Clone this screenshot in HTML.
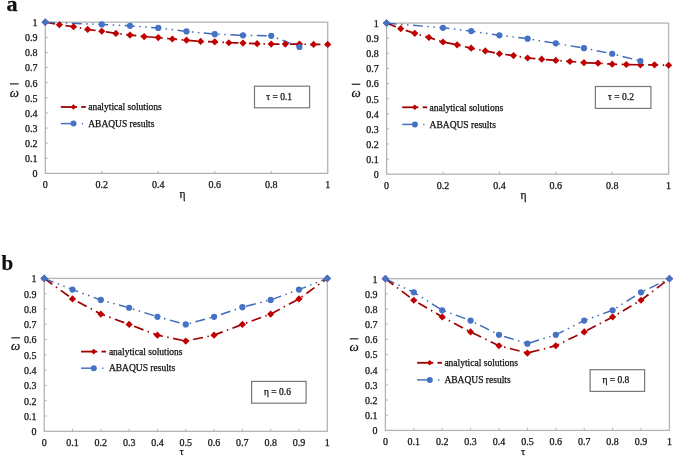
<!DOCTYPE html>
<html><head><meta charset="utf-8"><style>
html,body{margin:0;padding:0;background:#fff;}
svg{display:block;will-change:transform;}
text{font-family:"Liberation Serif",serif;fill:#111;stroke:#111;stroke-width:0.25px;}
.t{font-size:10px;}
.lg{font-size:9.5px;}
.ax{font-size:10.5px;}
.eta{font-size:11.5px;}
.om{font-size:13px;font-style:italic;}
.big{font-size:21px;font-weight:bold;}
</style></head><body>
<svg width="675" height="457" viewBox="0 0 675 457">
<rect width="675" height="457" fill="#fff"/>
<text x="6.5" y="11.1" class="big" transform="translate(6.5 0) scale(1.05 1) translate(-6.5 0)">a</text>
<text x="1.5" y="269.7" class="big">b</text>
<g><rect x="45.3" y="22.2" width="282.4" height="151.2" fill="none" stroke="#B4B4B4" stroke-width="1.3"/>
<line x1="45.3" y1="158.28" x2="47.9" y2="158.28" stroke="#B4B4B4" stroke-width="1"/>
<line x1="45.3" y1="143.16" x2="47.9" y2="143.16" stroke="#B4B4B4" stroke-width="1"/>
<line x1="45.3" y1="128.04" x2="47.9" y2="128.04" stroke="#B4B4B4" stroke-width="1"/>
<line x1="45.3" y1="112.92" x2="47.9" y2="112.92" stroke="#B4B4B4" stroke-width="1"/>
<line x1="45.3" y1="97.8" x2="47.9" y2="97.8" stroke="#B4B4B4" stroke-width="1"/>
<line x1="45.3" y1="82.68" x2="47.9" y2="82.68" stroke="#B4B4B4" stroke-width="1"/>
<line x1="45.3" y1="67.56" x2="47.9" y2="67.56" stroke="#B4B4B4" stroke-width="1"/>
<line x1="45.3" y1="52.44" x2="47.9" y2="52.44" stroke="#B4B4B4" stroke-width="1"/>
<line x1="45.3" y1="37.32" x2="47.9" y2="37.32" stroke="#B4B4B4" stroke-width="1"/>
<line x1="101.78" y1="173.4" x2="101.78" y2="170.8" stroke="#B4B4B4" stroke-width="1"/>
<line x1="158.26" y1="173.4" x2="158.26" y2="170.8" stroke="#B4B4B4" stroke-width="1"/>
<line x1="214.74" y1="173.4" x2="214.74" y2="170.8" stroke="#B4B4B4" stroke-width="1"/>
<line x1="271.22" y1="173.4" x2="271.22" y2="170.8" stroke="#B4B4B4" stroke-width="1"/>
<text x="37.5" y="177.3" text-anchor="end" class="t">0</text>
<text x="37.5" y="162.18" text-anchor="end" class="t">0.1</text>
<text x="37.5" y="147.06" text-anchor="end" class="t">0.2</text>
<text x="37.5" y="131.94" text-anchor="end" class="t">0.3</text>
<text x="37.5" y="116.82" text-anchor="end" class="t">0.4</text>
<text x="37.5" y="101.7" text-anchor="end" class="t">0.5</text>
<text x="37.5" y="86.58" text-anchor="end" class="t">0.6</text>
<text x="37.5" y="71.46" text-anchor="end" class="t">0.7</text>
<text x="37.5" y="56.34" text-anchor="end" class="t">0.8</text>
<text x="37.5" y="41.22" text-anchor="end" class="t">0.9</text>
<text x="37.5" y="26.1" text-anchor="end" class="t">1</text>
<text x="45.3" y="188.4" text-anchor="middle" class="t">0</text>
<text x="101.78" y="188.4" text-anchor="middle" class="t">0.2</text>
<text x="158.26" y="188.4" text-anchor="middle" class="t">0.4</text>
<text x="214.74" y="188.4" text-anchor="middle" class="t">0.6</text>
<text x="271.22" y="188.4" text-anchor="middle" class="t">0.8</text>
<text x="327.7" y="188.4" text-anchor="middle" class="t">1</text>
<text x="182.4" y="197.8" text-anchor="middle" class="ax eta">η</text>
<line x1="10" y1="83.9" x2="18.6" y2="83.9" stroke="#333" stroke-width="1.3"/>
<text x="14.3" y="96.5" text-anchor="middle" class="om">ω</text>
<polyline points="45.3,22.2 59.42,24.77 73.54,26.74 87.66,29.46 101.78,31.27 115.9,33.39 130.02,35.05 144.14,36.56 158.26,37.62 172.38,38.98 186.5,40.19 200.62,41.4 214.74,41.86 228.86,42.76 242.98,43.07 257.1,43.67 271.22,44.12 285.34,44.12 299.46,44.12 313.58,44.43 327.7,44.43" fill="none" stroke="#A00000" stroke-width="1.7" stroke-dasharray="10 4.5 1.5 4.5"/>
<polyline points="45.3,22.2 101.78,24.47 130.02,25.83 158.26,27.95 186.5,31.42 214.74,34.14 242.98,35.35 271.22,35.81 299.46,47" fill="none" stroke="#3F6AB8" stroke-width="1.45" stroke-dasharray="10 4.5 1.5 4.5 1.5 4.5"/>
<path d="M45.3 18.6L48.9 22.2L45.3 25.8L41.7 22.2Z" fill="#C00000"/>
<path d="M59.42 21.17L63.02 24.77L59.42 28.37L55.82 24.77Z" fill="#C00000"/>
<path d="M73.54 23.14L77.14 26.74L73.54 30.34L69.94 26.74Z" fill="#C00000"/>
<path d="M87.66 25.86L91.26 29.46L87.66 33.06L84.06 29.46Z" fill="#C00000"/>
<path d="M101.78 27.67L105.38 31.27L101.78 34.87L98.18 31.27Z" fill="#C00000"/>
<path d="M115.9 29.79L119.5 33.39L115.9 36.99L112.3 33.39Z" fill="#C00000"/>
<path d="M130.02 31.45L133.62 35.05L130.02 38.65L126.42 35.05Z" fill="#C00000"/>
<path d="M144.14 32.96L147.74 36.56L144.14 40.16L140.54 36.56Z" fill="#C00000"/>
<path d="M158.26 34.02L161.86 37.62L158.26 41.22L154.66 37.62Z" fill="#C00000"/>
<path d="M172.38 35.38L175.98 38.98L172.38 42.58L168.78 38.98Z" fill="#C00000"/>
<path d="M186.5 36.59L190.1 40.19L186.5 43.79L182.9 40.19Z" fill="#C00000"/>
<path d="M200.62 37.8L204.22 41.4L200.62 45L197.02 41.4Z" fill="#C00000"/>
<path d="M214.74 38.26L218.34 41.86L214.74 45.46L211.14 41.86Z" fill="#C00000"/>
<path d="M228.86 39.16L232.46 42.76L228.86 46.36L225.26 42.76Z" fill="#C00000"/>
<path d="M242.98 39.47L246.58 43.07L242.98 46.67L239.38 43.07Z" fill="#C00000"/>
<path d="M257.1 40.07L260.7 43.67L257.1 47.27L253.5 43.67Z" fill="#C00000"/>
<path d="M271.22 40.52L274.82 44.12L271.22 47.72L267.62 44.12Z" fill="#C00000"/>
<path d="M285.34 40.52L288.94 44.12L285.34 47.72L281.74 44.12Z" fill="#C00000"/>
<path d="M299.46 40.52L303.06 44.12L299.46 47.72L295.86 44.12Z" fill="#C00000"/>
<path d="M313.58 40.83L317.18 44.43L313.58 48.03L309.98 44.43Z" fill="#C00000"/>
<path d="M327.7 40.83L331.3 44.43L327.7 48.03L324.1 44.43Z" fill="#C00000"/>
<circle cx="101.78" cy="24.47" r="3.1" fill="#4472C4"/>
<circle cx="130.02" cy="25.83" r="3.1" fill="#4472C4"/>
<circle cx="158.26" cy="27.95" r="3.1" fill="#4472C4"/>
<circle cx="186.5" cy="31.42" r="3.1" fill="#4472C4"/>
<circle cx="214.74" cy="34.14" r="3.1" fill="#4472C4"/>
<circle cx="242.98" cy="35.35" r="3.1" fill="#4472C4"/>
<circle cx="271.22" cy="35.81" r="3.1" fill="#4472C4"/>
<circle cx="299.46" cy="47" r="3.1" fill="#4472C4"/>
<path d="M45.3 18.3L49.2 22.2L45.3 26.1L41.4 22.2Z" fill="#4472C4"/>
<line x1="60.8" y1="107" x2="77" y2="107" stroke="#A00000" stroke-width="1.8"/>
<line x1="81.2" y1="107" x2="85.8" y2="107" stroke="#A00000" stroke-width="1.8"/>
<path d="M73.4 104.2L76.2 107L73.4 109.8L70.6 107Z" fill="#C00000"/>
<text x="88.2" y="110.2" class="lg">analytical solutions</text>
<line x1="60.8" y1="123.6" x2="72.8" y2="123.6" stroke="#4472C4" stroke-width="1.5"/>
<line x1="81.8" y1="123.6" x2="83.1" y2="123.6" stroke="#4472C4" stroke-width="1.5"/>
<circle cx="73.5" cy="123.6" r="3" fill="#4472C4"/>
<text x="88.2" y="126.8" class="lg">ABAQUS results</text>
<rect x="254.5" y="86.2" width="55.1" height="21.6" fill="#fff" stroke="#787878" stroke-width="1.2"/>
<text x="279.2" y="99.9" text-anchor="middle" class="lg">τ = 0.1</text></g>
<g><rect x="386.6" y="23.1" width="282" height="151.1" fill="none" stroke="#B4B4B4" stroke-width="1.3"/>
<line x1="386.6" y1="159.09" x2="389.2" y2="159.09" stroke="#B4B4B4" stroke-width="1"/>
<line x1="386.6" y1="143.98" x2="389.2" y2="143.98" stroke="#B4B4B4" stroke-width="1"/>
<line x1="386.6" y1="128.87" x2="389.2" y2="128.87" stroke="#B4B4B4" stroke-width="1"/>
<line x1="386.6" y1="113.76" x2="389.2" y2="113.76" stroke="#B4B4B4" stroke-width="1"/>
<line x1="386.6" y1="98.65" x2="389.2" y2="98.65" stroke="#B4B4B4" stroke-width="1"/>
<line x1="386.6" y1="83.54" x2="389.2" y2="83.54" stroke="#B4B4B4" stroke-width="1"/>
<line x1="386.6" y1="68.43" x2="389.2" y2="68.43" stroke="#B4B4B4" stroke-width="1"/>
<line x1="386.6" y1="53.32" x2="389.2" y2="53.32" stroke="#B4B4B4" stroke-width="1"/>
<line x1="386.6" y1="38.21" x2="389.2" y2="38.21" stroke="#B4B4B4" stroke-width="1"/>
<line x1="443" y1="174.2" x2="443" y2="171.6" stroke="#B4B4B4" stroke-width="1"/>
<line x1="499.4" y1="174.2" x2="499.4" y2="171.6" stroke="#B4B4B4" stroke-width="1"/>
<line x1="555.8" y1="174.2" x2="555.8" y2="171.6" stroke="#B4B4B4" stroke-width="1"/>
<line x1="612.2" y1="174.2" x2="612.2" y2="171.6" stroke="#B4B4B4" stroke-width="1"/>
<text x="378.8" y="178.1" text-anchor="end" class="t">0</text>
<text x="378.8" y="162.99" text-anchor="end" class="t">0.1</text>
<text x="378.8" y="147.88" text-anchor="end" class="t">0.2</text>
<text x="378.8" y="132.77" text-anchor="end" class="t">0.3</text>
<text x="378.8" y="117.66" text-anchor="end" class="t">0.4</text>
<text x="378.8" y="102.55" text-anchor="end" class="t">0.5</text>
<text x="378.8" y="87.44" text-anchor="end" class="t">0.6</text>
<text x="378.8" y="72.33" text-anchor="end" class="t">0.7</text>
<text x="378.8" y="57.22" text-anchor="end" class="t">0.8</text>
<text x="378.8" y="42.11" text-anchor="end" class="t">0.9</text>
<text x="378.8" y="27" text-anchor="end" class="t">1</text>
<text x="386.6" y="189.4" text-anchor="middle" class="t">0</text>
<text x="443" y="189.4" text-anchor="middle" class="t">0.2</text>
<text x="499.4" y="189.4" text-anchor="middle" class="t">0.4</text>
<text x="555.8" y="189.4" text-anchor="middle" class="t">0.6</text>
<text x="612.2" y="189.4" text-anchor="middle" class="t">0.8</text>
<text x="668.6" y="189.4" text-anchor="middle" class="t">1</text>
<text x="523.6" y="199.2" text-anchor="middle" class="ax eta">η</text>
<line x1="351.7" y1="84.3" x2="360.3" y2="84.3" stroke="#333" stroke-width="1.3"/>
<text x="356" y="97.3" text-anchor="middle" class="om">ω</text>
<polyline points="386.6,23.1 400.7,28.69 414.8,33.37 428.9,37.45 443,41.99 457.1,44.86 471.2,48.18 485.3,50.9 499.4,53.77 513.5,55.59 527.6,58 541.7,59.21 555.8,60.42 569.9,61.48 584,62.69 598.1,63.14 612.2,64.2 626.3,64.5 640.4,64.8 654.5,64.8 668.6,65.26" fill="none" stroke="#A00000" stroke-width="1.7" stroke-dasharray="10 4.5 1.5 4.5"/>
<polyline points="386.6,23.1 443,27.78 471.2,31.11 499.4,35.34 527.6,38.66 555.8,43.35 584,48.18 612.2,53.77 640.4,61.03" fill="none" stroke="#3F6AB8" stroke-width="1.45" stroke-dasharray="10 4.5 1.5 4.5 1.5 4.5"/>
<path d="M386.6 19.5L390.2 23.1L386.6 26.7L383 23.1Z" fill="#C00000"/>
<path d="M400.7 25.09L404.3 28.69L400.7 32.29L397.1 28.69Z" fill="#C00000"/>
<path d="M414.8 29.77L418.4 33.37L414.8 36.97L411.2 33.37Z" fill="#C00000"/>
<path d="M428.9 33.85L432.5 37.45L428.9 41.05L425.3 37.45Z" fill="#C00000"/>
<path d="M443 38.39L446.6 41.99L443 45.59L439.4 41.99Z" fill="#C00000"/>
<path d="M457.1 41.26L460.7 44.86L457.1 48.46L453.5 44.86Z" fill="#C00000"/>
<path d="M471.2 44.58L474.8 48.18L471.2 51.78L467.6 48.18Z" fill="#C00000"/>
<path d="M485.3 47.3L488.9 50.9L485.3 54.5L481.7 50.9Z" fill="#C00000"/>
<path d="M499.4 50.17L503 53.77L499.4 57.37L495.8 53.77Z" fill="#C00000"/>
<path d="M513.5 51.99L517.1 55.59L513.5 59.19L509.9 55.59Z" fill="#C00000"/>
<path d="M527.6 54.4L531.2 58L527.6 61.6L524 58Z" fill="#C00000"/>
<path d="M541.7 55.61L545.3 59.21L541.7 62.81L538.1 59.21Z" fill="#C00000"/>
<path d="M555.8 56.82L559.4 60.42L555.8 64.02L552.2 60.42Z" fill="#C00000"/>
<path d="M569.9 57.88L573.5 61.48L569.9 65.08L566.3 61.48Z" fill="#C00000"/>
<path d="M584 59.09L587.6 62.69L584 66.29L580.4 62.69Z" fill="#C00000"/>
<path d="M598.1 59.54L601.7 63.14L598.1 66.74L594.5 63.14Z" fill="#C00000"/>
<path d="M612.2 60.6L615.8 64.2L612.2 67.8L608.6 64.2Z" fill="#C00000"/>
<path d="M626.3 60.9L629.9 64.5L626.3 68.1L622.7 64.5Z" fill="#C00000"/>
<path d="M640.4 61.2L644 64.8L640.4 68.4L636.8 64.8Z" fill="#C00000"/>
<path d="M654.5 61.2L658.1 64.8L654.5 68.4L650.9 64.8Z" fill="#C00000"/>
<path d="M668.6 61.66L672.2 65.26L668.6 68.86L665 65.26Z" fill="#C00000"/>
<circle cx="443" cy="27.78" r="3.1" fill="#4472C4"/>
<circle cx="471.2" cy="31.11" r="3.1" fill="#4472C4"/>
<circle cx="499.4" cy="35.34" r="3.1" fill="#4472C4"/>
<circle cx="527.6" cy="38.66" r="3.1" fill="#4472C4"/>
<circle cx="555.8" cy="43.35" r="3.1" fill="#4472C4"/>
<circle cx="584" cy="48.18" r="3.1" fill="#4472C4"/>
<circle cx="612.2" cy="53.77" r="3.1" fill="#4472C4"/>
<circle cx="640.4" cy="61.03" r="3.1" fill="#4472C4"/>
<path d="M386.6 19.2L390.5 23.1L386.6 27L382.7 23.1Z" fill="#4472C4"/>
<line x1="402.2" y1="107.3" x2="418.4" y2="107.3" stroke="#A00000" stroke-width="1.8"/>
<line x1="422.6" y1="107.3" x2="427.2" y2="107.3" stroke="#A00000" stroke-width="1.8"/>
<path d="M414.8 104.5L417.6 107.3L414.8 110.1L412 107.3Z" fill="#C00000"/>
<text x="429.6" y="110.5" class="lg">analytical solutions</text>
<line x1="402.2" y1="124.4" x2="414.2" y2="124.4" stroke="#4472C4" stroke-width="1.5"/>
<line x1="423.2" y1="124.4" x2="424.5" y2="124.4" stroke="#4472C4" stroke-width="1.5"/>
<circle cx="414.9" cy="124.4" r="3" fill="#4472C4"/>
<text x="429.6" y="127.6" class="lg">ABAQUS results</text>
<rect x="595.4" y="86.5" width="55.5" height="21.9" fill="#fff" stroke="#787878" stroke-width="1.2"/>
<text x="621" y="99.9" text-anchor="middle" class="lg">τ = 0.2</text></g>
<g><rect x="44.2" y="278.4" width="283.1" height="152.9" fill="none" stroke="#B4B4B4" stroke-width="1.3"/>
<line x1="44.2" y1="416.01" x2="46.8" y2="416.01" stroke="#B4B4B4" stroke-width="1"/>
<line x1="44.2" y1="400.72" x2="46.8" y2="400.72" stroke="#B4B4B4" stroke-width="1"/>
<line x1="44.2" y1="385.43" x2="46.8" y2="385.43" stroke="#B4B4B4" stroke-width="1"/>
<line x1="44.2" y1="370.14" x2="46.8" y2="370.14" stroke="#B4B4B4" stroke-width="1"/>
<line x1="44.2" y1="354.85" x2="46.8" y2="354.85" stroke="#B4B4B4" stroke-width="1"/>
<line x1="44.2" y1="339.56" x2="46.8" y2="339.56" stroke="#B4B4B4" stroke-width="1"/>
<line x1="44.2" y1="324.27" x2="46.8" y2="324.27" stroke="#B4B4B4" stroke-width="1"/>
<line x1="44.2" y1="308.98" x2="46.8" y2="308.98" stroke="#B4B4B4" stroke-width="1"/>
<line x1="44.2" y1="293.69" x2="46.8" y2="293.69" stroke="#B4B4B4" stroke-width="1"/>
<line x1="72.51" y1="431.3" x2="72.51" y2="428.7" stroke="#B4B4B4" stroke-width="1"/>
<line x1="100.82" y1="431.3" x2="100.82" y2="428.7" stroke="#B4B4B4" stroke-width="1"/>
<line x1="129.13" y1="431.3" x2="129.13" y2="428.7" stroke="#B4B4B4" stroke-width="1"/>
<line x1="157.44" y1="431.3" x2="157.44" y2="428.7" stroke="#B4B4B4" stroke-width="1"/>
<line x1="185.75" y1="431.3" x2="185.75" y2="428.7" stroke="#B4B4B4" stroke-width="1"/>
<line x1="214.06" y1="431.3" x2="214.06" y2="428.7" stroke="#B4B4B4" stroke-width="1"/>
<line x1="242.37" y1="431.3" x2="242.37" y2="428.7" stroke="#B4B4B4" stroke-width="1"/>
<line x1="270.68" y1="431.3" x2="270.68" y2="428.7" stroke="#B4B4B4" stroke-width="1"/>
<line x1="298.99" y1="431.3" x2="298.99" y2="428.7" stroke="#B4B4B4" stroke-width="1"/>
<text x="36.4" y="435.2" text-anchor="end" class="t">0</text>
<text x="36.4" y="419.91" text-anchor="end" class="t">0.1</text>
<text x="36.4" y="404.62" text-anchor="end" class="t">0.2</text>
<text x="36.4" y="389.33" text-anchor="end" class="t">0.3</text>
<text x="36.4" y="374.04" text-anchor="end" class="t">0.4</text>
<text x="36.4" y="358.75" text-anchor="end" class="t">0.5</text>
<text x="36.4" y="343.46" text-anchor="end" class="t">0.6</text>
<text x="36.4" y="328.17" text-anchor="end" class="t">0.7</text>
<text x="36.4" y="312.88" text-anchor="end" class="t">0.8</text>
<text x="36.4" y="297.59" text-anchor="end" class="t">0.9</text>
<text x="36.4" y="282.3" text-anchor="end" class="t">1</text>
<text x="44.2" y="445.6" text-anchor="middle" class="t">0</text>
<text x="72.51" y="445.6" text-anchor="middle" class="t">0.1</text>
<text x="100.82" y="445.6" text-anchor="middle" class="t">0.2</text>
<text x="129.13" y="445.6" text-anchor="middle" class="t">0.3</text>
<text x="157.44" y="445.6" text-anchor="middle" class="t">0.4</text>
<text x="185.75" y="445.6" text-anchor="middle" class="t">0.5</text>
<text x="214.06" y="445.6" text-anchor="middle" class="t">0.6</text>
<text x="242.37" y="445.6" text-anchor="middle" class="t">0.7</text>
<text x="270.68" y="445.6" text-anchor="middle" class="t">0.8</text>
<text x="298.99" y="445.6" text-anchor="middle" class="t">0.9</text>
<text x="327.3" y="445.6" text-anchor="middle" class="t">1</text>
<text x="181.5" y="455" text-anchor="middle" class="ax">τ</text>
<line x1="11.4" y1="337.8" x2="20" y2="337.8" stroke="#333" stroke-width="1.3"/>
<text x="15.7" y="349.9" text-anchor="middle" class="om">ω</text>
<polyline points="44.2,278.4 72.51,298.89 100.82,314.03 129.13,324.42 157.44,335.13 185.75,341.09 214.06,335.13 242.37,324.42 270.68,314.03 298.99,298.89 327.3,278.4" fill="none" stroke="#A00000" stroke-width="1.7" stroke-dasharray="10 4.5 1.5 4.5"/>
<polyline points="44.2,278.4 72.51,289.56 100.82,299.96 129.13,307.76 157.44,316.78 185.75,324.42 214.06,316.78 242.37,307.15 270.68,299.96 298.99,289.56 327.3,278.4" fill="none" stroke="#3F6AB8" stroke-width="1.45" stroke-dasharray="10 4.5 1.5 4.5 1.5 4.5"/>
<path d="M44.2 274.8L47.8 278.4L44.2 282L40.6 278.4Z" fill="#C00000"/>
<path d="M72.51 295.29L76.11 298.89L72.51 302.49L68.91 298.89Z" fill="#C00000"/>
<path d="M100.82 310.43L104.42 314.03L100.82 317.63L97.22 314.03Z" fill="#C00000"/>
<path d="M129.13 320.82L132.73 324.42L129.13 328.02L125.53 324.42Z" fill="#C00000"/>
<path d="M157.44 331.53L161.04 335.13L157.44 338.73L153.84 335.13Z" fill="#C00000"/>
<path d="M185.75 337.49L189.35 341.09L185.75 344.69L182.15 341.09Z" fill="#C00000"/>
<path d="M214.06 331.53L217.66 335.13L214.06 338.73L210.46 335.13Z" fill="#C00000"/>
<path d="M242.37 320.82L245.97 324.42L242.37 328.02L238.77 324.42Z" fill="#C00000"/>
<path d="M270.68 310.43L274.28 314.03L270.68 317.63L267.08 314.03Z" fill="#C00000"/>
<path d="M298.99 295.29L302.59 298.89L298.99 302.49L295.39 298.89Z" fill="#C00000"/>
<path d="M327.3 274.8L330.9 278.4L327.3 282L323.7 278.4Z" fill="#C00000"/>
<circle cx="72.51" cy="289.56" r="3.1" fill="#4472C4"/>
<circle cx="100.82" cy="299.96" r="3.1" fill="#4472C4"/>
<circle cx="129.13" cy="307.76" r="3.1" fill="#4472C4"/>
<circle cx="157.44" cy="316.78" r="3.1" fill="#4472C4"/>
<circle cx="185.75" cy="324.42" r="3.1" fill="#4472C4"/>
<circle cx="214.06" cy="316.78" r="3.1" fill="#4472C4"/>
<circle cx="242.37" cy="307.15" r="3.1" fill="#4472C4"/>
<circle cx="270.68" cy="299.96" r="3.1" fill="#4472C4"/>
<circle cx="298.99" cy="289.56" r="3.1" fill="#4472C4"/>
<path d="M44.2 274.5L48.1 278.4L44.2 282.3L40.3 278.4Z" fill="#4472C4"/>
<path d="M327.3 274.5L331.2 278.4L327.3 282.3L323.4 278.4Z" fill="#4472C4"/>
<line x1="81.1" y1="351.6" x2="97.3" y2="351.6" stroke="#A00000" stroke-width="1.8"/>
<line x1="101.5" y1="351.6" x2="106.1" y2="351.6" stroke="#A00000" stroke-width="1.8"/>
<path d="M93.7 348.8L96.5 351.6L93.7 354.4L90.9 351.6Z" fill="#C00000"/>
<text x="108.9" y="354.8" class="lg">analytical solutions</text>
<line x1="81.1" y1="368.2" x2="93.1" y2="368.2" stroke="#4472C4" stroke-width="1.5"/>
<line x1="102.1" y1="368.2" x2="103.4" y2="368.2" stroke="#4472C4" stroke-width="1.5"/>
<circle cx="93.8" cy="368.2" r="3" fill="#4472C4"/>
<text x="108.9" y="371.4" class="lg">ABAQUS results</text>
<rect x="251.6" y="381.4" width="54.5" height="21.8" fill="#fff" stroke="#787878" stroke-width="1.2"/>
<text x="277.5" y="395" text-anchor="middle" class="lg">η = 0.6</text></g>
<g><rect x="385.4" y="278.7" width="284" height="151.7" fill="none" stroke="#B4B4B4" stroke-width="1.3"/>
<line x1="385.4" y1="415.23" x2="388" y2="415.23" stroke="#B4B4B4" stroke-width="1"/>
<line x1="385.4" y1="400.06" x2="388" y2="400.06" stroke="#B4B4B4" stroke-width="1"/>
<line x1="385.4" y1="384.89" x2="388" y2="384.89" stroke="#B4B4B4" stroke-width="1"/>
<line x1="385.4" y1="369.72" x2="388" y2="369.72" stroke="#B4B4B4" stroke-width="1"/>
<line x1="385.4" y1="354.55" x2="388" y2="354.55" stroke="#B4B4B4" stroke-width="1"/>
<line x1="385.4" y1="339.38" x2="388" y2="339.38" stroke="#B4B4B4" stroke-width="1"/>
<line x1="385.4" y1="324.21" x2="388" y2="324.21" stroke="#B4B4B4" stroke-width="1"/>
<line x1="385.4" y1="309.04" x2="388" y2="309.04" stroke="#B4B4B4" stroke-width="1"/>
<line x1="385.4" y1="293.87" x2="388" y2="293.87" stroke="#B4B4B4" stroke-width="1"/>
<line x1="413.8" y1="430.4" x2="413.8" y2="427.8" stroke="#B4B4B4" stroke-width="1"/>
<line x1="442.2" y1="430.4" x2="442.2" y2="427.8" stroke="#B4B4B4" stroke-width="1"/>
<line x1="470.6" y1="430.4" x2="470.6" y2="427.8" stroke="#B4B4B4" stroke-width="1"/>
<line x1="499" y1="430.4" x2="499" y2="427.8" stroke="#B4B4B4" stroke-width="1"/>
<line x1="527.4" y1="430.4" x2="527.4" y2="427.8" stroke="#B4B4B4" stroke-width="1"/>
<line x1="555.8" y1="430.4" x2="555.8" y2="427.8" stroke="#B4B4B4" stroke-width="1"/>
<line x1="584.2" y1="430.4" x2="584.2" y2="427.8" stroke="#B4B4B4" stroke-width="1"/>
<line x1="612.6" y1="430.4" x2="612.6" y2="427.8" stroke="#B4B4B4" stroke-width="1"/>
<line x1="641" y1="430.4" x2="641" y2="427.8" stroke="#B4B4B4" stroke-width="1"/>
<text x="377.6" y="434.3" text-anchor="end" class="t">0</text>
<text x="377.6" y="419.13" text-anchor="end" class="t">0.1</text>
<text x="377.6" y="403.96" text-anchor="end" class="t">0.2</text>
<text x="377.6" y="388.79" text-anchor="end" class="t">0.3</text>
<text x="377.6" y="373.62" text-anchor="end" class="t">0.4</text>
<text x="377.6" y="358.45" text-anchor="end" class="t">0.5</text>
<text x="377.6" y="343.28" text-anchor="end" class="t">0.6</text>
<text x="377.6" y="328.11" text-anchor="end" class="t">0.7</text>
<text x="377.6" y="312.94" text-anchor="end" class="t">0.8</text>
<text x="377.6" y="297.77" text-anchor="end" class="t">0.9</text>
<text x="377.6" y="282.6" text-anchor="end" class="t">1</text>
<text x="385.4" y="444.7" text-anchor="middle" class="t">0</text>
<text x="413.8" y="444.7" text-anchor="middle" class="t">0.1</text>
<text x="442.2" y="444.7" text-anchor="middle" class="t">0.2</text>
<text x="470.6" y="444.7" text-anchor="middle" class="t">0.3</text>
<text x="499" y="444.7" text-anchor="middle" class="t">0.4</text>
<text x="527.4" y="444.7" text-anchor="middle" class="t">0.5</text>
<text x="555.8" y="444.7" text-anchor="middle" class="t">0.6</text>
<text x="584.2" y="444.7" text-anchor="middle" class="t">0.7</text>
<text x="612.6" y="444.7" text-anchor="middle" class="t">0.8</text>
<text x="641" y="444.7" text-anchor="middle" class="t">0.9</text>
<text x="669.4" y="444.7" text-anchor="middle" class="t">1</text>
<text x="523" y="454.6" text-anchor="middle" class="ax">τ</text>
<line x1="349.8" y1="338.8" x2="358.4" y2="338.8" stroke="#333" stroke-width="1.3"/>
<text x="354.1" y="351.3" text-anchor="middle" class="om">ω</text>
<polyline points="385.4,278.7 413.8,300.24 442.2,316.93 470.6,331.95 499,345.75 527.4,353.03 555.8,345.75 584.2,331.95 612.6,316.93 641,300.24 669.4,278.7" fill="none" stroke="#A00000" stroke-width="1.7" stroke-dasharray="10 4.5 1.5 4.5"/>
<polyline points="385.4,278.7 413.8,292.35 442.2,310.25 470.6,320.57 499,334.83 527.4,343.63 555.8,334.83 584.2,320.57 612.6,310.25 641,292.35 669.4,278.7" fill="none" stroke="#3F6AB8" stroke-width="1.45" stroke-dasharray="10 4.5 1.5 4.5 1.5 4.5"/>
<path d="M385.4 275.1L389 278.7L385.4 282.3L381.8 278.7Z" fill="#C00000"/>
<path d="M413.8 296.64L417.4 300.24L413.8 303.84L410.2 300.24Z" fill="#C00000"/>
<path d="M442.2 313.33L445.8 316.93L442.2 320.53L438.6 316.93Z" fill="#C00000"/>
<path d="M470.6 328.35L474.2 331.95L470.6 335.55L467 331.95Z" fill="#C00000"/>
<path d="M499 342.15L502.6 345.75L499 349.35L495.4 345.75Z" fill="#C00000"/>
<path d="M527.4 349.43L531 353.03L527.4 356.63L523.8 353.03Z" fill="#C00000"/>
<path d="M555.8 342.15L559.4 345.75L555.8 349.35L552.2 345.75Z" fill="#C00000"/>
<path d="M584.2 328.35L587.8 331.95L584.2 335.55L580.6 331.95Z" fill="#C00000"/>
<path d="M612.6 313.33L616.2 316.93L612.6 320.53L609 316.93Z" fill="#C00000"/>
<path d="M641 296.64L644.6 300.24L641 303.84L637.4 300.24Z" fill="#C00000"/>
<path d="M669.4 275.1L673 278.7L669.4 282.3L665.8 278.7Z" fill="#C00000"/>
<circle cx="413.8" cy="292.35" r="3.1" fill="#4472C4"/>
<circle cx="442.2" cy="310.25" r="3.1" fill="#4472C4"/>
<circle cx="470.6" cy="320.57" r="3.1" fill="#4472C4"/>
<circle cx="499" cy="334.83" r="3.1" fill="#4472C4"/>
<circle cx="527.4" cy="343.63" r="3.1" fill="#4472C4"/>
<circle cx="555.8" cy="334.83" r="3.1" fill="#4472C4"/>
<circle cx="584.2" cy="320.57" r="3.1" fill="#4472C4"/>
<circle cx="612.6" cy="310.25" r="3.1" fill="#4472C4"/>
<circle cx="641" cy="292.35" r="3.1" fill="#4472C4"/>
<path d="M385.4 274.8L389.3 278.7L385.4 282.6L381.5 278.7Z" fill="#4472C4"/>
<path d="M669.4 274.8L673.3 278.7L669.4 282.6L665.5 278.7Z" fill="#4472C4"/>
<line x1="417.1" y1="362.8" x2="433.3" y2="362.8" stroke="#A00000" stroke-width="1.8"/>
<line x1="437.5" y1="362.8" x2="442.1" y2="362.8" stroke="#A00000" stroke-width="1.8"/>
<path d="M429.7 360L432.5 362.8L429.7 365.6L426.9 362.8Z" fill="#C00000"/>
<text x="444.4" y="366" class="lg">analytical solutions</text>
<line x1="417.1" y1="379.9" x2="429.1" y2="379.9" stroke="#4472C4" stroke-width="1.5"/>
<line x1="438.1" y1="379.9" x2="439.4" y2="379.9" stroke="#4472C4" stroke-width="1.5"/>
<circle cx="429.8" cy="379.9" r="3" fill="#4472C4"/>
<text x="444.4" y="383.1" class="lg">ABAQUS results</text>
<rect x="590.1" y="369.7" width="54.5" height="21.7" fill="#fff" stroke="#787878" stroke-width="1.2"/>
<text x="615.9" y="383.4" text-anchor="middle" class="lg">η = 0.8</text></g>
</svg>
</body></html>
